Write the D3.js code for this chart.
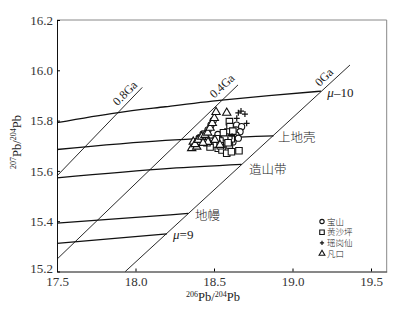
<!DOCTYPE html>
<meta charset="utf-8">
<script src="https://d3js.org/d3.v7.min.js"></script>
<style>
  body { margin: 0; background: #fff; }
  svg { font-family: "Liberation Serif", serif; }
  .cn { font-family: "Noto Sans CJK SC", sans-serif; font-weight: 300; }
</style>
<body>
<div id="chart"></div>
<script>

// axis ticks
var xTicks = [17.5, 18.0, 18.5, 19.0, 19.5];
var yTicks = [15.2, 15.4, 15.6, 15.8, 16.0, 16.2];

// Pb growth curves [206Pb/204Pb, 207Pb/204Pb]
var curveMu10   = [[17.5, 15.792], [17.88, 15.831], [18.19, 15.855], [18.55, 15.881], [18.85, 15.899], [19.182, 15.917]];
var curveCrust  = [[17.5, 15.685], [18.19, 15.721], [18.879, 15.739]];
var curveOrogen = [[17.5, 15.572], [18.22, 15.610], [18.676, 15.626]];
var curveMantle = [[17.5, 15.392], [18.22, 15.425], [18.336, 15.431]];
var curveMu9    = [[17.5, 15.312], [18.2, 15.350]];

// isochrons
var iso0  = [[17.935, 15.2], [19.366, 16.021]];
var iso04 = [[17.5, 15.249], [18.653, 15.942]];
var iso08 = [[17.5, 15.580], [18.043, 15.932]];

// samples
var baoshan = [[18.481, 15.783], [18.462, 15.763], [18.430, 15.747], [18.405, 15.731], [18.644, 15.782],
  [18.676, 15.776], [18.640, 15.763], [18.666, 15.756], [18.640, 15.743], [18.655, 15.730],
  [18.621, 15.715], [18.551, 15.739], [18.570, 15.715], [18.495, 15.800], [18.450, 15.728],
  [18.525, 15.745], [18.610, 15.748], [18.585, 15.728]];
var huangshaping = [[18.598, 15.796], [18.602, 15.776], [18.589, 15.755], [18.570, 15.735], [18.538, 15.719],
  [18.598, 15.703], [18.527, 15.690], [18.500, 15.707], [18.475, 15.695], [18.551, 15.683],
  [18.581, 15.670], [18.611, 15.676], [18.659, 15.680], [18.560, 15.752], [18.515, 15.728],
  [18.610, 15.728], [18.455, 15.712], [18.590, 15.712], [18.620, 15.758], [18.540, 15.700]];
var yaogangxian = [[18.655, 15.831], [18.697, 15.826], [18.645, 15.809], [18.708, 15.789], [18.672, 15.838],
  [18.615, 15.738]];
var fankou = [[18.358, 15.690], [18.390, 15.696], [18.368, 15.716], [18.379, 15.706], [18.400, 15.723],
  [18.422, 15.736], [18.443, 15.743], [18.460, 15.752], [18.475, 15.771], [18.489, 15.790],
  [18.502, 15.810], [18.513, 15.834], [18.581, 15.831], [18.462, 15.715], [18.506, 15.723],
  [18.538, 15.703], [18.430, 15.711]];

var legendNames = ["宝山", "黄沙坪", "瑶岗仙", "凡口"];

var width = 412, height = 311;

var svg = d3.select("#chart")
  .append("svg")
    .attr("width", width)
    .attr("height", height);

var x = d3.scaleLinear().domain([17.5, 19.6]).range([57, 386.7]);
var y = d3.scaleLinear().domain([15.2, 16.2]).range([271.5, 20]);

// frame (top/right grey)
svg.append("path")
  .attr("d", "M" + x(17.5) + "," + y(16.2) + "H" + x(19.6) + "V" + y(15.2))
  .attr("fill", "none")
  .attr("stroke", "#888")
  .attr("stroke-width", 1);

var xAxis = svg.append("g")
  .attr("transform", "translate(0," + y(15.2) + ")")
  .call(d3.axisBottom(x).tickValues(xTicks).tickSize(-3).tickPadding(5).tickSizeOuter(0)
    .tickFormat(d3.format(".1f")));
var yAxis = svg.append("g")
  .attr("transform", "translate(" + x(17.5) + ",0)")
  .call(d3.axisLeft(y).tickValues(yTicks).tickSize(-3).tickPadding(4).tickSizeOuter(0)
    .tickFormat(d3.format(".1f")));

[xAxis, yAxis].forEach(function(a) {
  a.selectAll("text").attr("font-family", "Liberation Serif").attr("font-size", 13).attr("fill", "#333");
  a.select(".domain").attr("stroke", "#111");
});
// lowest y label sits a little above its tick, clear of 17.5
yAxis.selectAll(".tick text").filter(function(d) { return d === 15.2; }).attr("dy", "0.05em");

var line = d3.line()
  .x(function(d) { return x(d[0]); })
  .y(function(d) { return y(d[1]); })
  .curve(d3.curveMonotoneX);

[curveMu10, curveCrust, curveOrogen, curveMantle, curveMu9].forEach(function(c) {
  svg.append("path").attr("d", line(c))
    .attr("fill", "none").attr("stroke", "#111").attr("stroke-width", 1.3);
});
[iso0, iso04, iso08].forEach(function(c) {
  svg.append("path").attr("d", line.curve(d3.curveLinear)(c))
    .attr("fill", "none").attr("stroke", "#111").attr("stroke-width", 0.9);
});

// isochron labels
function rotLabel(t, X, Y, ang) {
  svg.append("text")
    .attr("transform", "translate(" + x(X) + "," + y(Y) + ") rotate(" + ang + ")")
    .attr("text-anchor", "middle")
    .attr("dominant-baseline", "middle")
    .attr("font-size", 12)
    .attr("fill", "#222")
    .text(t);
}
rotLabel("0.8Ga", 17.939, 15.906, -45);
rotLabel("0.4Ga", 18.557, 15.934, -43);
rotLabel("0Ga", 19.207, 15.969, -45);

function muLabel(n, X, Y) {
  var t = svg.append("text").attr("x", x(X)).attr("y", y(Y)).attr("font-size", 13).attr("fill", "#222");
  t.append("tspan").attr("font-style", "italic").text("μ");
  t.append("tspan").text(n);
}
muLabel("–10", 19.222, 15.894);
muLabel("=9", 18.239, 15.329);

function cnLabel(t, X, Y) {
  svg.append("text").attr("class", "cn")
    .attr("x", x(X)).attr("y", y(Y))
    .attr("font-size", 12.5).attr("fill", "#222")
    .text(t);
}
cnLabel("上地壳", 18.908, 15.716);
cnLabel("造山带", 18.723, 15.588);
cnLabel("地幔", 18.379, 15.405);

// axis titles
var xt = svg.append("text").attr("x", 213).attr("y", 301).attr("text-anchor", "middle")
  .attr("font-size", 12.5).attr("fill", "#222");
xt.append("tspan").attr("font-size", 8).attr("dy", -4.5).text("206");
xt.append("tspan").attr("dy", 4.5).text("Pb/");
xt.append("tspan").attr("font-size", 8).attr("dy", -4.5).text("204");
xt.append("tspan").attr("dy", 4.5).text("Pb");

var yt = svg.append("text").attr("transform", "translate(21,142) rotate(-90)").attr("text-anchor", "middle")
  .attr("font-size", 12.5).attr("fill", "#222");
yt.append("tspan").attr("font-size", 8).attr("dy", -5).text("207");
yt.append("tspan").attr("dy", 5).text("Pb/");
yt.append("tspan").attr("font-size", 8).attr("dy", -5).text("204");
yt.append("tspan").attr("dy", 5).text("Pb");

// symbols
var sym = [d3.symbolCircle, d3.symbolSquare, d3.symbolCross, d3.symbolTriangle];
var symSize = [30, 42, 0, 30];

function drawMarker(g, k, cx, cy, s) {
  if (k === 2) {
    var h = 3 * s;
    g.append("path")
      .attr("d", "M" + (cx - h) + "," + cy + "H" + (cx + h) + "M" + cx + "," + (cy - h) + "V" + (cy + h))
      .attr("stroke", "#111").attr("stroke-width", 1.2);
  } else {
    g.append("path")
      .attr("d", d3.symbol().type(sym[k]).size(symSize[k] * s * s)())
      .attr("transform", "translate(" + cx + "," + cy + ")")
      .attr("fill", "#fff").attr("stroke", "#111").attr("stroke-width", 1.1);
  }
}

var pts = svg.append("g");
[baoshan, huangshaping, yaogangxian, fankou].forEach(function(series, k) {
  series.forEach(function(d) { drawMarker(pts, k, x(d[0]), y(d[1]), 1); });
});

// legend
var leg = svg.append("g");
legendNames.forEach(function(n, i) {
  var ly = 221.5 + i * 10.7;
  drawMarker(leg, i, 322, ly, 0.7);
  leg.append("text").attr("class", "cn")
    .attr("x", 327).attr("y", ly + 3)
    .attr("font-size", 8.5).attr("fill", "#222").text(n);
});

</script>
</body>
